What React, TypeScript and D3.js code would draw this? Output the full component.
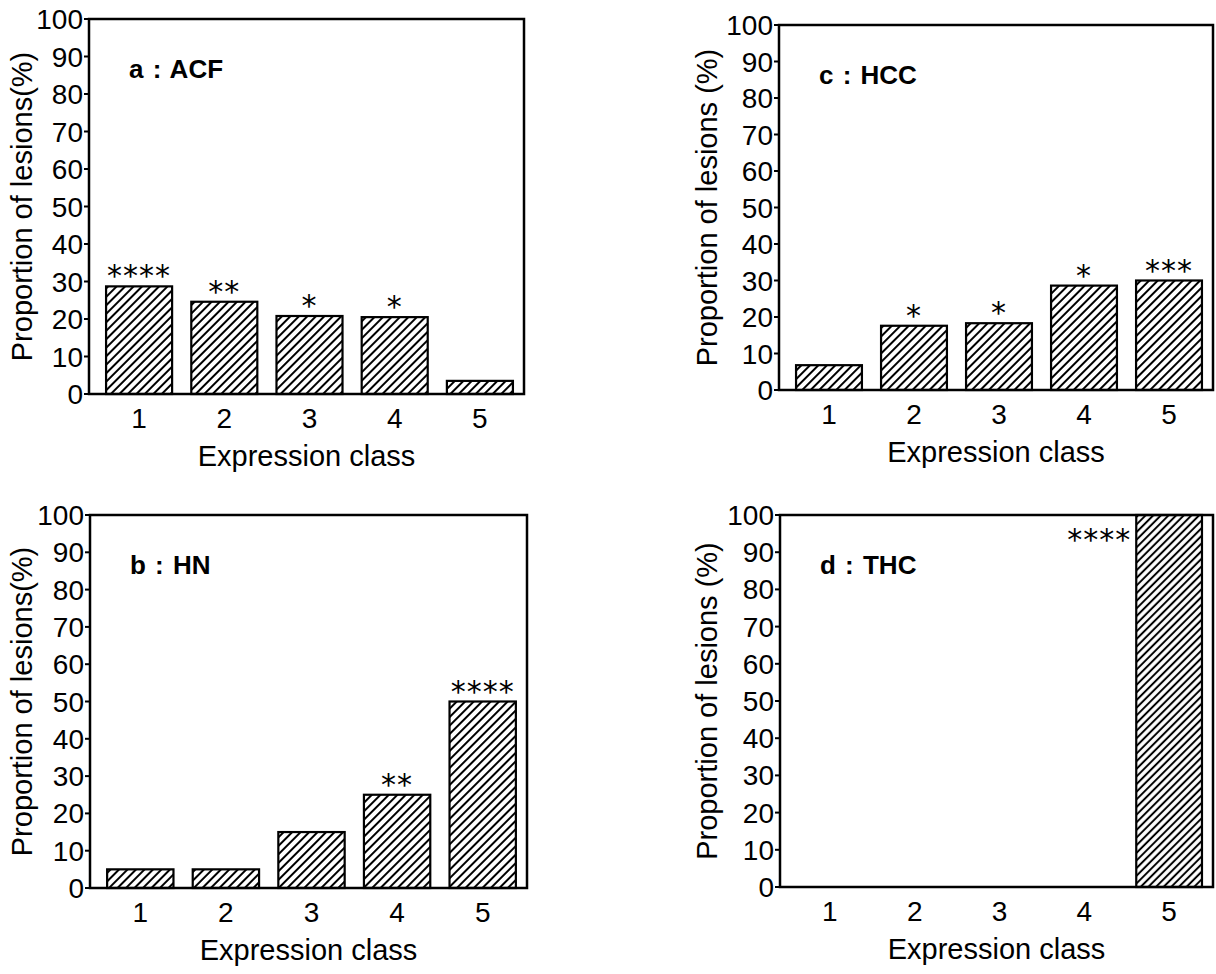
import React from "react";
import * as d3 from "d3";

const CLASSES = ["1", "2", "3", "4", "5"];
const Y_TICKS = [0, 10, 20, 30, 40, 50, 60, 70, 80, 90, 100];

const ACF_VALUES = [28.7, 24.6, 20.8, 20.5, 3.5];
const ACF_STARS = ["****", "**", "*", "*", ""];
const HN_VALUES = [5, 5, 15, 25, 50];
const HN_STARS = ["", "", "", "**", "****"];
const HCC_VALUES = [6.8, 17.6, 18.3, 28.6, 30];
const HCC_STARS = ["", "*", "*", "*", "***"];
const THC_VALUES = [0, 0, 0, 0, 100];
const THC_STARS = ["", "", "", "", "****"];

const FONT = "'Liberation Sans', Arial, Helvetica, sans-serif";
const STAR_FONT = "'DejaVu Sans', sans-serif";

const PANELS = [
  {
    title: "a : ACF",
    values: ACF_VALUES,
    stars: ACF_STARS,
    yLabel: "Proportion of lesions(%)",
    box: { left: 89, right: 524, top: 19, bottom: 394 },
    yLabelX: 22,
    hatch: "hatchWide",
    starsBeside: false,
  },
  {
    title: "c : HCC",
    values: HCC_VALUES,
    stars: HCC_STARS,
    yLabel: "Proportion of lesions (%)",
    box: { left: 779, right: 1213, top: 25, bottom: 390 },
    yLabelX: 707,
    hatch: "hatchWide",
    starsBeside: false,
  },
  {
    title: "b : HN",
    values: HN_VALUES,
    stars: HN_STARS,
    yLabel: "Proportion of lesions(%)",
    box: { left: 90, right: 527, top: 515, bottom: 888 },
    yLabelX: 22,
    hatch: "hatchWide",
    starsBeside: false,
  },
  {
    title: "d : THC",
    values: THC_VALUES,
    stars: THC_STARS,
    yLabel: "Proportion of lesions (%)",
    box: { left: 780, right: 1213, top: 515, bottom: 887 },
    yLabelX: 707,
    hatch: "hatchDense",
    starsBeside: true,
  },
];

type PanelCfg = (typeof PANELS)[number];

const Panel = ({ cfg }: { cfg: PanelCfg }) => {
  const { box } = cfg;
  const x = d3
    .scaleBand()
    .domain(CLASSES)
    .range([box.left + 6, box.right])
    .paddingInner(0.225)
    .paddingOuter(0.13);
  const y = d3.scaleLinear().domain([0, 100]).range([box.bottom, box.top]);
  const bw = x.bandwidth();
  const midX = (box.left + box.right) / 2;
  const midY = (box.top + box.bottom) / 2;

  return (
    <g fontFamily={FONT}>
      {/* bars */}
      {cfg.values.map((v, i) =>
        v > 0 ? (
          <rect
            key={i}
            x={x(CLASSES[i])}
            y={y(v)}
            width={bw}
            height={y(0) - y(v)}
            fill={`url(#${cfg.hatch})`}
            stroke="#000"
            strokeWidth={2.2}
          />
        ) : null
      )}

      {/* significance stars */}
      {cfg.stars.map((s, i) => {
        if (!s) return null;
        const bx = x(CLASSES[i])!;
        if (cfg.starsBeside) {
          return (
            <text
              key={i}
              x={bx - 5}
              y={y(cfg.values[i]) + 35}
              textAnchor="end"
              fontFamily={STAR_FONT}
              fontSize={30}
              letterSpacing={1}
            >
              {s}
            </text>
          );
        }
        return (
          <text
            key={i}
            x={bx + bw / 2}
            y={y(cfg.values[i])}
            textAnchor="middle"
            fontFamily={STAR_FONT}
            fontSize={30}
            letterSpacing={1}
          >
            {s}
          </text>
        );
      })}

      {/* frame */}
      <rect
        x={box.left}
        y={box.top}
        width={box.right - box.left}
        height={box.bottom - box.top}
        fill="none"
        stroke="#000"
        strokeWidth={2.5}
      />

      {/* y ticks */}
      {Y_TICKS.map((t) => (
        <g key={t}>
          <line
            x1={box.left - 5}
            x2={box.left}
            y1={y(t)}
            y2={y(t)}
            stroke="#000"
            strokeWidth={2}
          />
          <text x={box.left - 6} y={y(t) + 10} textAnchor="end" fontSize={28}>
            {t}
          </text>
        </g>
      ))}

      {/* x tick labels */}
      {CLASSES.map((c) => (
        <text
          key={c}
          x={x(c)! + bw / 2}
          y={box.bottom + 34}
          textAnchor="middle"
          fontSize={28}
        >
          {c}
        </text>
      ))}

      <text x={midX} y={box.bottom + 72} textAnchor="middle" fontSize={29}>
        Expression class
      </text>

      <text
        transform={`translate(${cfg.yLabelX + 10},${midY}) rotate(-90)`}
        textAnchor="middle"
        fontSize={29}
      >
        {cfg.yLabel}
      </text>

      <text
        x={box.left + 40}
        y={box.top + 59}
        fontSize={26}
        fontWeight="bold"
        wordSpacing={2}
      >
        {cfg.title}
      </text>
    </g>
  );
};

export default function App() {
  return (
    <svg
      width={1216}
      height={974}
      style={{ position: "absolute", left: 0, top: 0, background: "#fff" }}
    >
      <defs>
        <pattern
          id="hatchWide"
          width={6}
          height={6}
          patternUnits="userSpaceOnUse"
          patternTransform="rotate(45)"
        >
          <rect width={6} height={6} fill="#fff" />
          <line x1={3} y1={0} x2={3} y2={6} stroke="#000" strokeWidth={2} />
        </pattern>
        <pattern
          id="hatchDense"
          width={5.4}
          height={5.4}
          patternUnits="userSpaceOnUse"
          patternTransform="rotate(45)"
        >
          <rect width={5.4} height={5.4} fill="#fff" />
          <line x1={2.7} y1={0} x2={2.7} y2={5.4} stroke="#000" strokeWidth={2} />
        </pattern>
      </defs>
      {PANELS.map((p) => (
        <Panel key={p.title} cfg={p} />
      ))}
    </svg>
  );
}
